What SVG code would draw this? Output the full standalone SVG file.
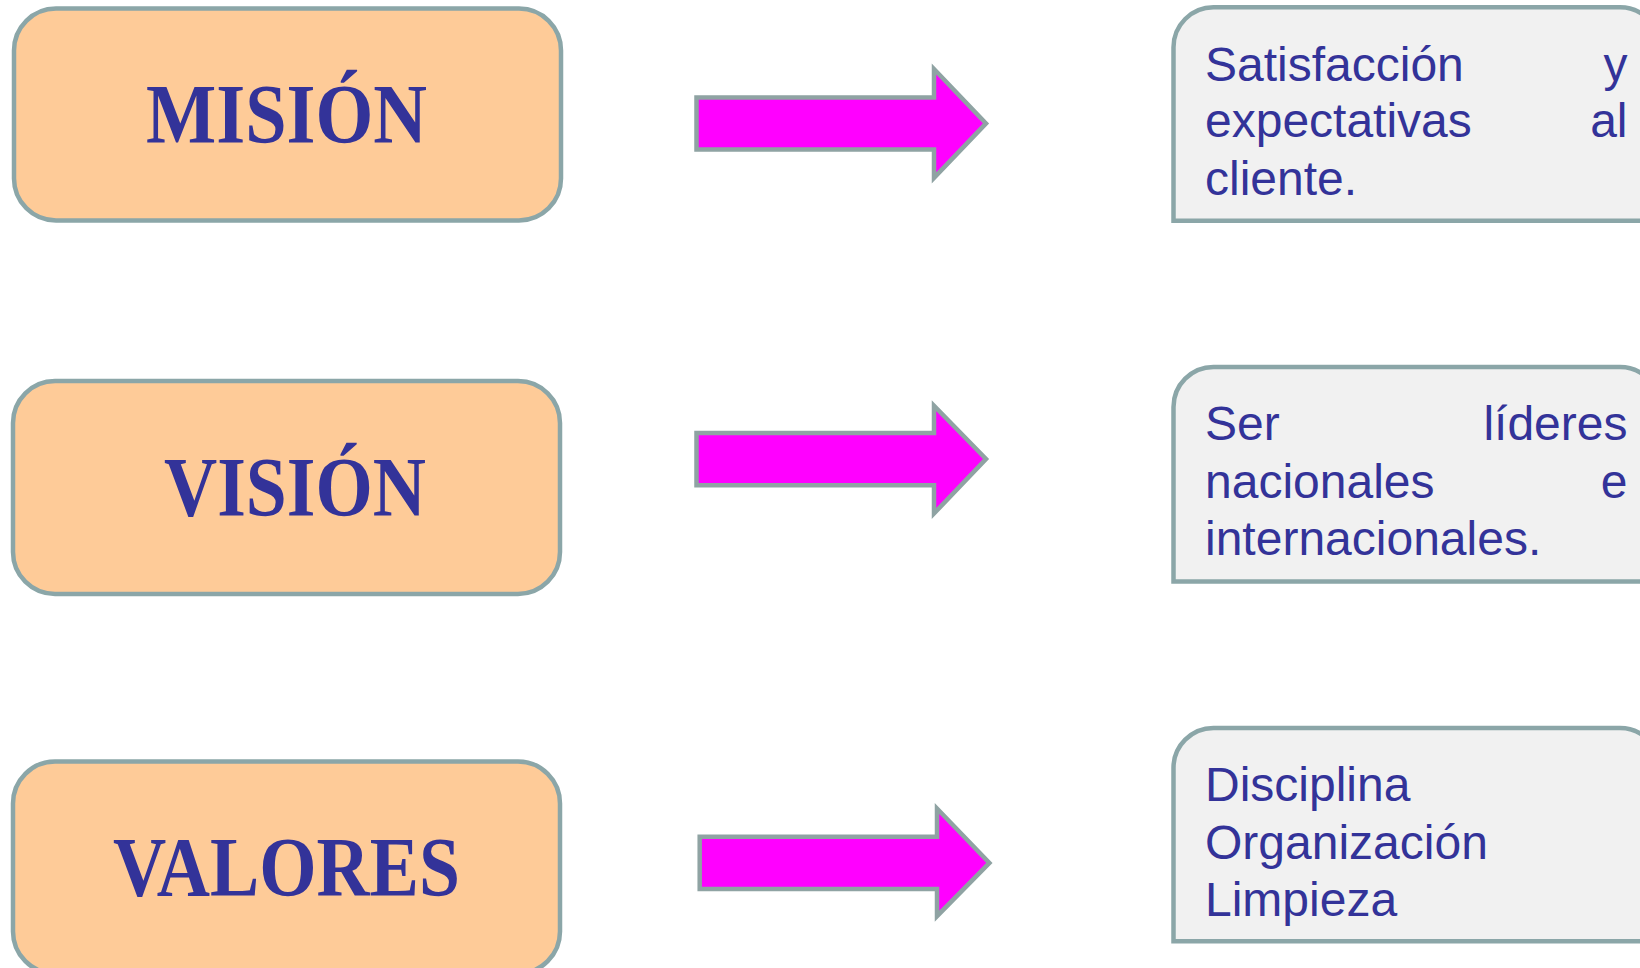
<svg xmlns="http://www.w3.org/2000/svg" width="1640" height="968" viewBox="0 0 1640 968">
<style>
.lbox{fill:#FECB98;stroke:#8BA6A8;stroke-width:4.5}
.rbox{fill:#F1F1F1;stroke:#8BA6A8;stroke-width:4.5}
.arrow{fill:#FF00FF;stroke:#8FA3A3;stroke-width:4.5;stroke-linejoin:miter}
.title{font-family:"Liberation Serif","Times New Roman",serif;font-weight:bold;font-size:85px;fill:#333399}
.body{font-family:"Liberation Sans",Arial,sans-serif;font-size:48px;fill:#333399}
</style>
<rect width="1640" height="968" fill="#FFFFFF"/>
<g id="mision">
<rect class="lbox" x="14" y="8.5" width="547" height="212" rx="42" ry="42"/>
<text class="title" x="146" y="143" textLength="281" lengthAdjust="spacingAndGlyphs">MISIÓN</text>
</g>
<g id="vision">
<rect class="lbox" x="13" y="381" width="547" height="213" rx="42" ry="42"/>
<text class="title" x="164" y="515.5" textLength="262" lengthAdjust="spacingAndGlyphs">VISIÓN</text>
</g>
<g id="valores">
<rect class="lbox" x="13" y="761.5" width="547" height="212" rx="42" ry="42"/>
<text class="title" x="113" y="896" textLength="347" lengthAdjust="spacingAndGlyphs">VALORES</text>
</g>
<g id="connectors">
<path class="arrow" d="M696.5,97.5 H934 V69 L986,123.4 L934,177.8 V149.5 H696.5 Z"/>
<path class="arrow" d="M696.5,433 H934 V405.8 L986,459 L934,513.5 V485.3 H696.5 Z"/>
<path class="arrow" d="M699.7,836.7 H937 V808.5 L989.4,862.9 L937,916.2 V889 H699.7 Z"/>
</g>
<g id="mision-desc">
<path class="rbox" d="M1173.5,220.7 V47.3 A40,40 0 0 1 1213.5,7.3 H1620 A40,40 0 0 1 1660,47.3 V220.7 Z"/>
<text class="body" x="1205" y="80.5">Satisfacción</text>
<text class="body" x="1627.5" y="80.5" text-anchor="end">y</text>
<text class="body" x="1205" y="137">expectativas</text>
<text class="body" x="1627.5" y="137" text-anchor="end">al</text>
<text class="body" x="1205" y="194.5">cliente.</text>
</g>
<g id="vision-desc">
<path class="rbox" d="M1173.5,581.5 V407 A40,40 0 0 1 1213.5,367 H1620 A40,40 0 0 1 1660,407 V581.5 Z"/>
<text class="body" x="1205" y="440">Ser</text>
<text class="body" x="1627.5" y="440" text-anchor="end">líderes</text>
<text class="body" x="1205" y="498">nacionales</text>
<text class="body" x="1627.5" y="498" text-anchor="end">e</text>
<text class="body" x="1205" y="555.4">internacionales.</text>
</g>
<g id="valores-desc">
<path class="rbox" d="M1173.5,941.3 V768 A40,40 0 0 1 1213.5,728 H1620 A40,40 0 0 1 1660,768 V941.3 Z"/>
<text class="body" x="1205" y="801">Disciplina</text>
<text class="body" x="1205" y="858.7">Organización</text>
<text class="body" x="1205" y="916">Limpieza</text>
</g>
</svg>
